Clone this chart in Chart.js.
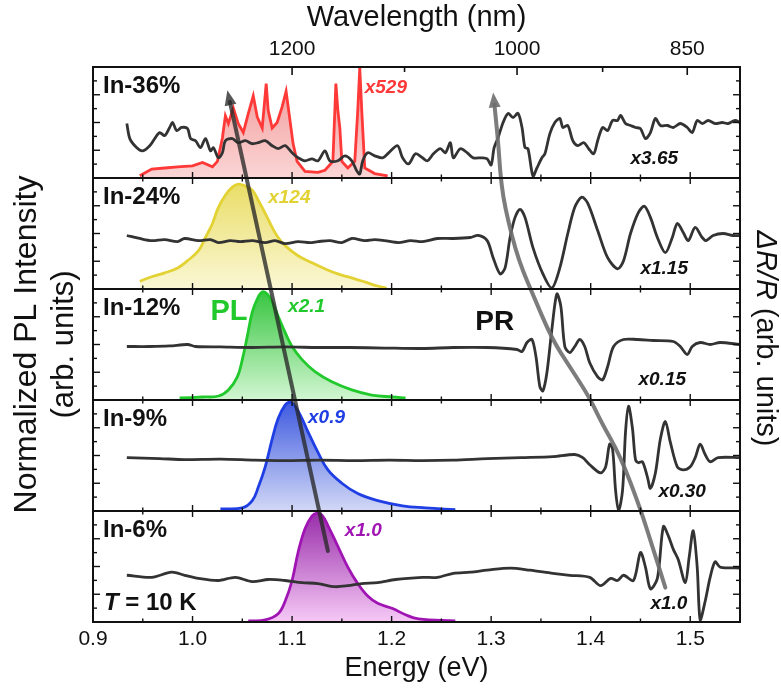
<!DOCTYPE html>
<html lang="en">
<head>
<meta charset="UTF-8">
<title>PL and PR spectra</title>
<script src="https://cdn.jsdelivr.net/npm/chart.js"></script>
<style>
  body { margin: 0; background: #fff; }
  #wrap { width: 781px; height: 693px; }
</style>
</head>
<body>
<div id="wrap"><canvas id="chart" width="781" height="693"></canvas></div>
<script>
// ---- data ----
const panels = ['In-36%', 'In-24%', 'In-12%', 'In-9%', 'In-6%'];
const energyTicks = [0.9, 1.0, 1.1, 1.2, 1.3, 1.4, 1.5];
const wlTickE = [1.10, 1.326, 1.497];
const wlTickLabels = ['1200', '1000', '850'];
const wlMinorE = [1.213, 1.412];

const plMult = ['x529', 'x124', 'x2.1', 'x0.9', 'x1.0'];
const prMult = ['x3.65', 'x1.15', 'x0.15', 'x0.30', 'x1.0'];

// PL spectra (normalized, 0..1 in each panel)
const plE36 = [0.947, 0.959, 0.972, 0.985, 1.000, 1.010, 1.020, 1.025, 1.030, 1.033, 1.036, 1.041, 1.046, 1.051, 1.056, 1.061, 1.065, 1.070, 1.074, 1.076, 1.080, 1.085, 1.090, 1.094, 1.097, 1.101, 1.105, 1.113, 1.126, 1.133, 1.141, 1.144, 1.146, 1.148, 1.150, 1.156, 1.163, 1.166, 1.168, 1.170, 1.173, 1.183, 1.196];
const plV36 = [0.02, 0.08, 0.09, 0.10, 0.11, 0.14, 0.10, 0.15, 0.36, 0.56, 0.49, 0.63, 0.49, 0.41, 0.58, 0.74, 0.55, 0.45, 0.85, 0.61, 0.45, 0.50, 0.64, 0.78, 0.58, 0.31, 0.15, 0.06, 0.05, 0.07, 0.15, 0.85, 0.61, 0.45, 0.15, 0.09, 0.15, 0.61, 0.99, 0.61, 0.09, 0.04, 0.02];

const plE24 = [0.947, 0.959, 0.972, 0.985, 0.995, 1.006, 1.013, 1.020, 1.026, 1.033, 1.040, 1.046, 1.053, 1.060, 1.066, 1.073, 1.080, 1.086, 1.093, 1.106, 1.120, 1.133, 1.146, 1.160, 1.173, 1.186, 1.195];
const plV24 = [0.07, 0.11, 0.145, 0.19, 0.255, 0.345, 0.464, 0.59, 0.736, 0.845, 0.918, 0.945, 0.927, 0.891, 0.80, 0.682, 0.555, 0.464, 0.391, 0.30, 0.236, 0.182, 0.136, 0.10, 0.064, 0.027, 0.009];

const plE12 = [0.987, 1.010, 1.026, 1.036, 1.045, 1.050, 1.055, 1.060, 1.065, 1.070, 1.075, 1.080, 1.086, 1.093, 1.100, 1.110, 1.123, 1.140, 1.160, 1.180, 1.201, 1.214];
const plV12 = [0.018, 0.027, 0.036, 0.091, 0.209, 0.364, 0.573, 0.791, 0.909, 0.973, 0.955, 0.882, 0.755, 0.609, 0.482, 0.364, 0.255, 0.164, 0.091, 0.045, 0.027, 0.018];

const plE9 = [1.028, 1.050, 1.060, 1.066, 1.073, 1.080, 1.086, 1.093, 1.098, 1.103, 1.110, 1.116, 1.126, 1.136, 1.150, 1.166, 1.186, 1.211, 1.234, 1.264];
const plV9 = [0.019, 0.028, 0.093, 0.213, 0.398, 0.648, 0.833, 0.954, 0.981, 0.944, 0.833, 0.713, 0.528, 0.37, 0.25, 0.157, 0.093, 0.046, 0.028, 0.012];

const plE6 = [1.056, 1.073, 1.086, 1.093, 1.100, 1.106, 1.113, 1.120, 1.125, 1.130, 1.136, 1.146, 1.156, 1.166, 1.176, 1.186, 1.201, 1.214, 1.227, 1.264];
const plV6 = [0.01, 0.019, 0.075, 0.187, 0.374, 0.626, 0.841, 0.953, 0.981, 0.963, 0.869, 0.682, 0.495, 0.346, 0.234, 0.168, 0.121, 0.065, 0.028, 0.01];

// PR spectra (arb. units, 0..1 in each panel)
const prE36 = [0.934, 0.937, 0.944, 0.950, 0.957, 0.962, 0.967, 0.972, 0.977, 0.980, 0.984, 0.989, 0.995, 0.998, 1.003, 1.008, 1.013, 1.018, 1.021, 1.026, 1.030, 1.033, 1.040, 1.046, 1.053, 1.060, 1.066, 1.073, 1.080, 1.086, 1.093, 1.100, 1.106, 1.113, 1.120, 1.126, 1.133, 1.138, 1.146, 1.153, 1.160, 1.165, 1.168, 1.171, 1.176, 1.183, 1.191, 1.197, 1.206, 1.211, 1.217, 1.224, 1.231, 1.236, 1.242, 1.249, 1.254, 1.259, 1.262, 1.269, 1.276, 1.282, 1.291, 1.296, 1.300, 1.303, 1.307, 1.312, 1.317, 1.322, 1.327, 1.331, 1.334, 1.337, 1.342, 1.346, 1.351, 1.354, 1.359, 1.364, 1.369, 1.372, 1.377, 1.382, 1.387, 1.393, 1.398, 1.403, 1.407, 1.412, 1.417, 1.422, 1.427, 1.430, 1.435, 1.440, 1.445, 1.450, 1.455, 1.460, 1.465, 1.470, 1.477, 1.483, 1.490, 1.497, 1.502, 1.507, 1.512, 1.518, 1.525, 1.532, 1.538, 1.545, 1.550];
const prV36 = [0.491, 0.355, 0.273, 0.245, 0.291, 0.355, 0.409, 0.382, 0.455, 0.5, 0.427, 0.455, 0.445, 0.355, 0.336, 0.273, 0.355, 0.245, 0.273, 0.182, 0.227, 0.336, 0.355, 0.318, 0.336, 0.309, 0.318, 0.336, 0.291, 0.264, 0.291, 0.227, 0.182, 0.155, 0.173, 0.155, 0.245, 0.155, 0.155, 0.2, 0.155, 0.064, 0.036, 0.155, 0.227, 0.2, 0.182, 0.227, 0.291, 0.182, 0.127, 0.218, 0.182, 0.155, 0.218, 0.264, 0.227, 0.318, 0.182, 0.264, 0.227, 0.182, 0.182, 0.173, 0.118, 0.273, 0.364, 0.5, 0.582, 0.545, 0.582, 0.455, 0.273, 0.264, 0.018, 0.091, 0.182, 0.218, 0.4, 0.5, 0.536, 0.455, 0.473, 0.336, 0.291, 0.318, 0.264, 0.218, 0.336, 0.455, 0.427, 0.518, 0.518, 0.564, 0.491, 0.473, 0.455, 0.445, 0.355, 0.409, 0.536, 0.473, 0.473, 0.455, 0.491, 0.455, 0.409, 0.518, 0.491, 0.518, 0.491, 0.5, 0.491, 0.518, 0.5];

const prE24 = [0.934, 0.947, 0.959, 0.972, 0.985, 0.992, 1.006, 1.018, 1.026, 1.038, 1.048, 1.060, 1.073, 1.083, 1.093, 1.106, 1.118, 1.126, 1.138, 1.150, 1.160, 1.173, 1.183, 1.193, 1.207, 1.219, 1.231, 1.246, 1.262, 1.279, 1.287, 1.296, 1.302, 1.309, 1.314, 1.319, 1.324, 1.329, 1.334, 1.342, 1.352, 1.361, 1.369, 1.377, 1.384, 1.391, 1.397, 1.407, 1.417, 1.427, 1.433, 1.440, 1.448, 1.454, 1.460, 1.467, 1.475, 1.482, 1.487, 1.493, 1.498, 1.505, 1.512, 1.516, 1.523, 1.533, 1.543, 1.550];
const prV24 = [0.482, 0.455, 0.436, 0.445, 0.427, 0.455, 0.436, 0.445, 0.418, 0.436, 0.427, 0.436, 0.418, 0.436, 0.409, 0.427, 0.418, 0.427, 0.436, 0.418, 0.455, 0.436, 0.445, 0.436, 0.418, 0.436, 0.427, 0.455, 0.455, 0.464, 0.482, 0.436, 0.282, 0.136, 0.191, 0.464, 0.645, 0.718, 0.645, 0.373, 0.136, 0.009, 0.191, 0.5, 0.736, 0.827, 0.773, 0.527, 0.282, 0.182, 0.255, 0.5, 0.691, 0.745, 0.645, 0.464, 0.327, 0.464, 0.591, 0.509, 0.436, 0.555, 0.464, 0.436, 0.482, 0.5, 0.482, 0.482];

const prE12 = [0.934, 0.957, 0.977, 0.995, 1.003, 1.028, 1.060, 1.093, 1.126, 1.158, 1.193, 1.231, 1.262, 1.296, 1.326, 1.331, 1.336, 1.341, 1.345, 1.349, 1.352, 1.356, 1.361, 1.366, 1.370, 1.374, 1.379, 1.384, 1.389, 1.394, 1.399, 1.407, 1.412, 1.417, 1.423, 1.433, 1.447, 1.463, 1.483, 1.490, 1.497, 1.502, 1.510, 1.520, 1.530, 1.550];
const prV12 = [0.482, 0.482, 0.487, 0.5, 0.482, 0.478, 0.473, 0.478, 0.473, 0.473, 0.468, 0.464, 0.473, 0.473, 0.455, 0.436, 0.518, 0.545, 0.391, 0.118, 0.082, 0.245, 0.636, 0.955, 0.845, 0.482, 0.427, 0.482, 0.545, 0.482, 0.336, 0.209, 0.182, 0.3, 0.482, 0.545, 0.545, 0.536, 0.527, 0.482, 0.409, 0.482, 0.518, 0.5, 0.518, 0.5];

const prE9 = [0.934, 0.967, 0.992, 1.028, 1.063, 1.093, 1.128, 1.163, 1.198, 1.231, 1.262, 1.296, 1.330, 1.362, 1.384, 1.392, 1.399, 1.410, 1.415, 1.419, 1.422, 1.425, 1.428, 1.432, 1.435, 1.438, 1.442, 1.445, 1.448, 1.452, 1.457, 1.460, 1.465, 1.470, 1.475, 1.480, 1.487, 1.493, 1.500, 1.505, 1.510, 1.515, 1.520, 1.528, 1.550];
const prV9 = [0.481, 0.472, 0.463, 0.468, 0.458, 0.454, 0.458, 0.454, 0.458, 0.454, 0.458, 0.472, 0.481, 0.49, 0.509, 0.481, 0.417, 0.343, 0.398, 0.602, 0.556, 0.185, 0.0, 0.185, 0.713, 0.944, 0.741, 0.463, 0.435, 0.444, 0.306, 0.204, 0.343, 0.648, 0.806, 0.62, 0.398, 0.37, 0.398, 0.481, 0.602, 0.509, 0.444, 0.481, 0.481];

const prE6 = [0.934, 0.959, 0.979, 0.992, 1.006, 1.026, 1.043, 1.060, 1.076, 1.093, 1.110, 1.126, 1.143, 1.156, 1.170, 1.186, 1.204, 1.231, 1.246, 1.262, 1.279, 1.296, 1.319, 1.339, 1.362, 1.379, 1.399, 1.410, 1.420, 1.427, 1.433, 1.443, 1.450, 1.455, 1.460, 1.467, 1.473, 1.478, 1.483, 1.488, 1.495, 1.499, 1.503, 1.507, 1.510, 1.515, 1.520, 1.525, 1.530, 1.550];
const prV6 = [0.421, 0.402, 0.449, 0.421, 0.393, 0.374, 0.402, 0.364, 0.383, 0.374, 0.355, 0.346, 0.318, 0.327, 0.346, 0.355, 0.383, 0.402, 0.402, 0.439, 0.449, 0.467, 0.486, 0.467, 0.439, 0.421, 0.402, 0.327, 0.393, 0.374, 0.421, 0.374, 0.626, 0.495, 0.299, 0.393, 0.86, 0.776, 0.654, 0.561, 0.355, 0.589, 0.822, 0.495, 0.019, 0.187, 0.402, 0.542, 0.495, 0.486];

const plE = [plE36, plE24, plE12, plE9, plE6];
const plV = [plV36, plV24, plV12, plV9, plV6];
const prE = [prE36, prE24, prE12, prE9, prE6];
const prV = [prV36, prV24, prV12, prV9, prV6];

// guide arrows: [energy, panel, level]
const plArrow = [[1.035, 0, 0.79], [1.136, 4, 0.64]];
const prArrow = [[1.302, 0, 0.77], [1.307, 0, 0.34], [1.309, 0, 0.06], [1.312, 1, 0.83], [1.317, 1, 0.62], [1.324, 1, 0.37], [1.332, 1, 0.16], [1.341, 2, 0.97], [1.361, 2, 0.55], [1.379, 2, 0.30], [1.399, 2, 0.02], [1.410, 3, 0.81], [1.430, 3, 0.49], [1.450, 3, 0.02], [1.463, 4, 0.65], [1.475, 4, 0.31]];

// ---- styles ----
const FONT = "Arial, 'Liberation Sans', Helvetica, sans-serif";
const plLine = ['#ff3838', '#e2d234', '#22c92c', '#1f3fe4', '#a014b4'];
const plTop = ['rgba(236,110,110,0.75)', 'rgba(228,214,70,0.85)', 'rgba(30,190,40,0.9)', 'rgba(40,70,220,0.9)', 'rgba(140,20,160,0.9)'];
const plBottom = ['rgba(250,200,200,0.75)', 'rgba(250,246,205,0.85)', 'rgba(205,245,205,0.9)', 'rgba(205,212,245,0.9)', 'rgba(245,195,245,0.9)'];
const prLine = '#333333';

Chart.defaults.font.family = FONT;
Chart.defaults.color = '#111';

function plFill(i) {
  return (c) => {
    const chart = c.chart;
    const s = chart.scales['pl' + i];
    if (!chart.chartArea || !s) return plBottom[i];
    const g = chart.ctx.createLinearGradient(0, s.top, 0, s.bottom);
    g.addColorStop(0, plTop[i]);
    g.addColorStop(1, plBottom[i]);
    return g;
  };
}

const datasets = [];
panels.forEach((p, i) => {
  datasets.push({
    label: 'PL ' + p,
    data: plE[i].map((e, k) => ({ x: e, y: plV[i][k] })),
    yAxisID: 'pl' + i,
    borderColor: plLine[i],
    borderWidth: 2.8,
    backgroundColor: plFill(i),
    fill: 'origin',
    pointRadius: 0,
    tension: i === 0 ? 0 : 0.4,
    order: 2
  });
  datasets.push({
    label: 'PR ' + p,
    data: prE[i].map((e, k) => ({ x: e, y: prV[i][k] })),
    yAxisID: 'pr' + i,
    borderColor: prLine,
    borderWidth: 2.8,
    fill: false,
    pointRadius: 0,
    tension: 0.3,
    order: 1
  });
});

const scales = {
  x: {
    type: 'linear', position: 'bottom', min: 0.9, max: 1.55,
    afterBuildTicks: s => { s.ticks = energyTicks.map(v => ({ value: v })); },
    afterFit: s => { s.height = 71; },
    ticks: { callback: v => v.toFixed(1), font: { size: 21 }, color: '#111', padding: 5, maxRotation: 0, autoSkip: false },
    grid: { display: false, drawTicks: false },
    border: { display: false },
    title: { display: true, text: 'Energy (eV)', font: { size: 27 }, color: '#111', padding: { top: 0, bottom: 8 } }
  },
  xTop: {
    type: 'linear', position: 'top', min: 0.9, max: 1.55,
    afterBuildTicks: s => { s.ticks = wlTickE.map(v => ({ value: v })); },
    afterFit: s => { s.height = 67; },
    ticks: { callback: (v, i) => wlTickLabels[i], font: { size: 21 }, color: '#111', padding: 5, maxRotation: 0, autoSkip: false },
    grid: { display: false, drawTicks: false },
    border: { display: false },
    title: { display: true, text: 'Wavelength (nm)', font: { size: 29 }, color: '#111', padding: { top: 1, bottom: 0 } }
  }
};
// the left stack is laid out bottom-up, the right stack top-down
for (let i = panels.length - 1; i >= 0; i--) {
  scales['pl' + i] = {
    type: 'linear', position: 'left', stack: 'left', stackWeight: 1, min: 0, max: 1,
    ticks: { display: false }, grid: { display: false }, border: { display: false },
    afterFit: s => { s.width = 0; }
  };
}
for (let i = 0; i < panels.length; i++) {
  scales['pr' + i] = {
    type: 'linear', position: 'right', stack: 'right', stackWeight: 1, min: 0, max: 1,
    ticks: { display: false }, grid: { display: false }, border: { display: false },
    afterFit: s => { s.width = 0; }
  };
}

function px(chart, pt) {
  return [chart.scales.x.getPixelForValue(pt[0]), chart.scales['pl' + pt[1]].getPixelForValue(pt[2])];
}

function drawArrow(ctx, chart, path, color) {
  const pts = path.map(p => px(chart, p));
  ctx.save();
  ctx.strokeStyle = color;
  ctx.fillStyle = color;
  ctx.lineWidth = 4;
  ctx.lineCap = 'round';
  ctx.lineJoin = 'round';
  const [hx, hy] = pts[0];
  const [nx, ny] = pts[1];
  const ang = Math.atan2(hy - ny, hx - nx);
  const back = 12;
  ctx.beginPath();
  ctx.moveTo(hx - Math.cos(ang) * back, hy - Math.sin(ang) * back);
  for (let k = 1; k < pts.length; k++) {
    if (k < pts.length - 1) {
      const mx = (pts[k][0] + pts[k + 1][0]) / 2, my = (pts[k][1] + pts[k + 1][1]) / 2;
      ctx.quadraticCurveTo(pts[k][0], pts[k][1], mx, my);
    } else {
      ctx.lineTo(pts[k][0], pts[k][1]);
    }
  }
  ctx.stroke();
  ctx.beginPath();
  ctx.moveTo(hx, hy);
  ctx.lineTo(hx - Math.cos(ang) * 15 + Math.sin(ang) * 6, hy - Math.sin(ang) * 15 - Math.cos(ang) * 6);
  ctx.lineTo(hx - Math.cos(ang) * 15 - Math.sin(ang) * 6, hy - Math.sin(ang) * 15 + Math.cos(ang) * 6);
  ctx.closePath();
  ctx.fill();
  ctx.restore();
}

function text(ctx, str, x, y, font, color, align) {
  ctx.font = font;
  ctx.fillStyle = color;
  ctx.textAlign = align || 'left';
  ctx.textBaseline = 'middle';
  ctx.fillText(str, x, y);
}

const decor = {
  id: 'decor',
  afterDatasetsDraw(chart) {
    const ctx = chart.ctx;
    drawArrow(ctx, chart, prArrow, 'rgba(110,110,110,0.9)');
    drawArrow(ctx, chart, plArrow, 'rgba(40,40,40,0.78)');
  },
  afterDraw(chart) {
    const ctx = chart.ctx, a = chart.chartArea, xs = chart.scales.x;
    ctx.save();
    ctx.strokeStyle = '#111';
    ctx.lineWidth = 2;
    ctx.strokeRect(a.left, a.top, a.right - a.left, a.bottom - a.top);

    // wavelength ticks on the top frame
    ctx.lineWidth = 1.6;
    wlTickE.forEach(e => {
      const x = xs.getPixelForValue(e);
      ctx.beginPath(); ctx.moveTo(x, a.top); ctx.lineTo(x, a.top + 8); ctx.stroke();
    });
    wlMinorE.forEach(e => {
      const x = xs.getPixelForValue(e);
      ctx.beginPath(); ctx.moveTo(x, a.top); ctx.lineTo(x, a.top + 5); ctx.stroke();
    });

    panels.forEach((p, i) => {
      const s = chart.scales['pl' + i];
      if (i > 0) {
        ctx.lineWidth = 2.2;
        ctx.beginPath(); ctx.moveTo(a.left, s.top); ctx.lineTo(a.right, s.top); ctx.stroke();
      }
      ctx.lineWidth = 1.4;
      for (let k = 0; k <= 13; k++) {
        const e = 0.9 + k * 0.05;
        const x = xs.getPixelForValue(e);
        const len = k % 2 === 0 ? 6 : 3.5;
        if (k === 0) continue;
        ctx.beginPath(); ctx.moveTo(x, s.bottom); ctx.lineTo(x, s.bottom - len); ctx.stroke();
        if (i > 0) { ctx.beginPath(); ctx.moveTo(x, s.top); ctx.lineTo(x, s.top + len); ctx.stroke(); }
      }
      for (let k = 1; k < 8; k++) {
        const y = s.getPixelForValue(k / 8);
        const len = k % 2 === 0 ? 7 : 4;
        ctx.beginPath(); ctx.moveTo(a.left, y); ctx.lineTo(a.left + len, y); ctx.stroke();
        ctx.beginPath(); ctx.moveTo(a.right, y); ctx.lineTo(a.right - len, y); ctx.stroke();
      }
      // panel names
      text(ctx, p, a.left + 10, s.top + 19, 'bold 24px ' + FONT, '#111');
    });

    // multiplier labels and annotations, placed in data coordinates
    const at = (e, i, v) => [xs.getPixelForValue(e), chart.scales['pl' + i].getPixelForValue(v)];
    const mPL = [[1.173, 0.81], [1.076, 0.82], [1.096, 0.84], [1.116, 0.84], [1.153, 0.82]];
    const mPR = [[1.440, 0.17], [1.450, 0.18], [1.448, 0.18], [1.468, 0.17], [1.460, 0.16]];
    panels.forEach((p, i) => {
      let q = at(mPL[i][0], i, mPL[i][1]);
      text(ctx, plMult[i], q[0], q[1], 'italic bold 19px ' + FONT, plLine[i]);
      q = at(mPR[i][0], i, mPR[i][1]);
      text(ctx, prMult[i], q[0], q[1], 'italic bold 19px ' + FONT, '#111');
    });
    let q = at(1.018, 2, 0.79);
    text(ctx, 'PL', q[0], q[1], 'bold 29px ' + FONT, plLine[2]);
    q = at(1.284, 2, 0.70);
    text(ctx, 'PR', q[0], q[1], 'bold 28px ' + FONT, '#111');

    // T = 10 K
    q = at(0.911, 4, 0.17);
    ctx.font = 'italic bold 24px ' + FONT;
    const wT = ctx.measureText('T').width;
    text(ctx, 'T', q[0], q[1], 'italic bold 24px ' + FONT, '#111');
    text(ctx, ' = 10 K', q[0] + wT, q[1], 'bold 24px ' + FONT, '#111');

    // left axis title
    const cy = (a.top + a.bottom) / 2;
    ctx.save();
    ctx.translate(27, cy);
    ctx.rotate(-Math.PI / 2);
    text(ctx, 'Normalized PL Intensity', 0, 0, '32px ' + FONT, '#111', 'center');
    ctx.restore();
    ctx.save();
    ctx.translate(64, cy);
    ctx.rotate(-Math.PI / 2);
    text(ctx, '(arb. units)', 0, 0, '31px ' + FONT, '#111', 'center');
    ctx.restore();

    // right axis title
    ctx.save();
    ctx.translate(765, cy - 6);
    ctx.rotate(Math.PI / 2);
    ctx.font = 'italic 29px ' + FONT;
    const w1 = ctx.measureText('\u0394R/R').width;
    ctx.font = '29px ' + FONT;
    const w2 = ctx.measureText(' (arb. units)').width;
    const x0 = -(w1 + w2) / 2;
    text(ctx, '\u0394R/R', x0, 0, 'italic 29px ' + FONT, '#111');
    text(ctx, ' (arb. units)', x0 + w1, 0, '29px ' + FONT, '#111');
    ctx.restore();

    ctx.restore();
  }
};

new Chart(document.getElementById('chart'), {
  type: 'line',
  data: { datasets },
  options: {
    responsive: false,
    animation: false,
    devicePixelRatio: 1,
    layout: { padding: { left: 93, right: 41, top: 0, bottom: 0 } },
    plugins: { legend: { display: false }, tooltip: { enabled: false } },
    scales
  },
  plugins: [decor]
});
</script>
</body>
</html>
